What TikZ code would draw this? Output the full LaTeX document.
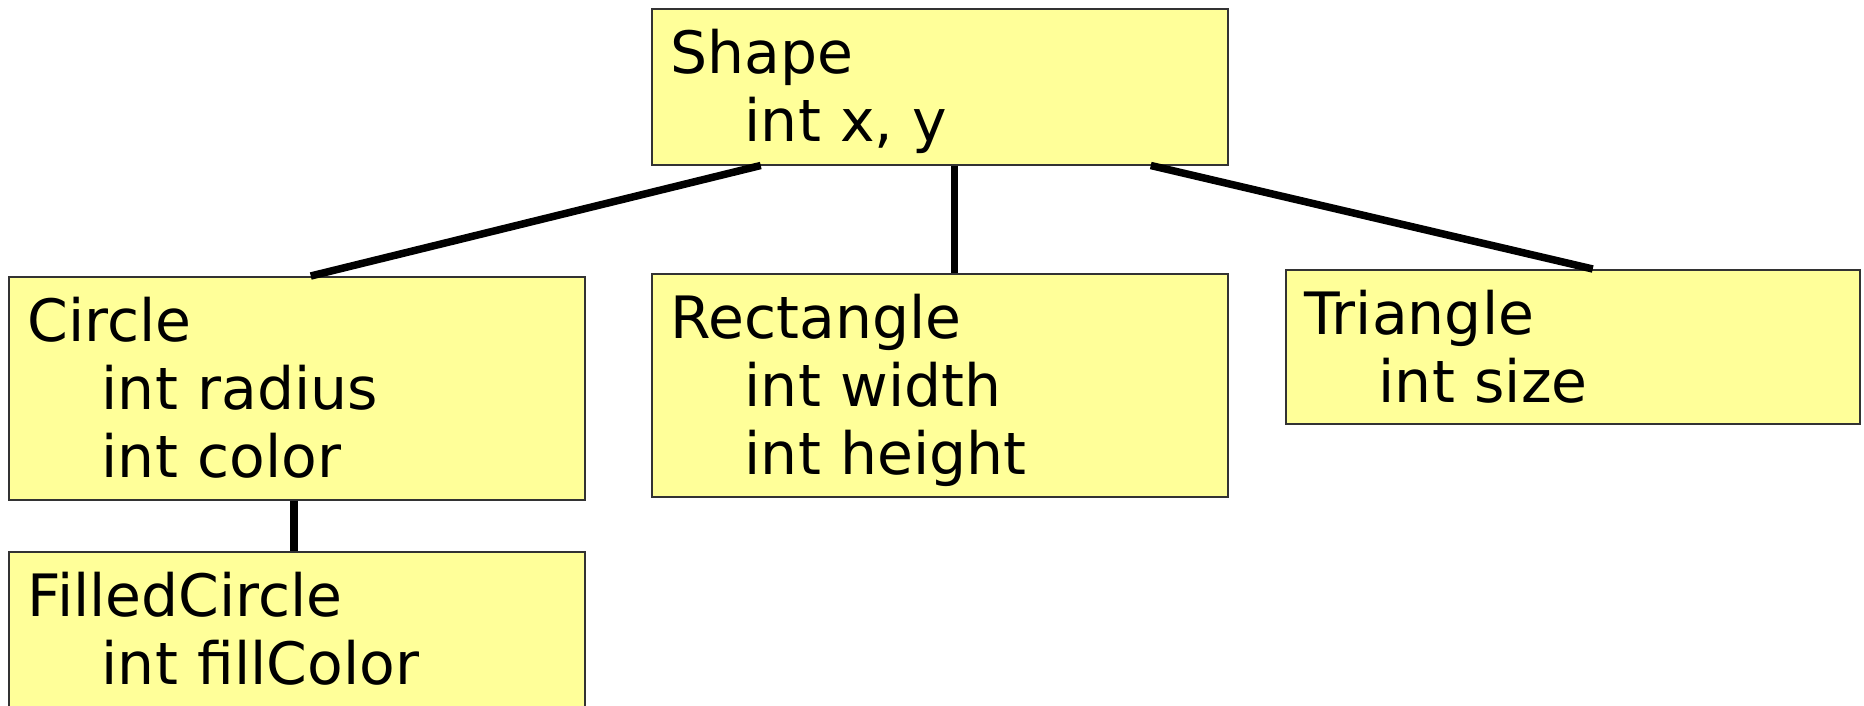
\documentclass[tikz,border=0pt]{standalone}
\usepackage{fontspec}
\setmainfont{DejaVu Sans}
\definecolor{notefill}{HTML}{FFFF99}
\newcommand{\field}[1]{\\\hspace*{74pt}#1}

\begin{document}
\begin{tikzpicture}[x=1pt,y=-1pt,
  klass/.style={draw=black!80, line width=1.5pt, fill=notefill, anchor=north west,
    inner xsep=19pt, inner ysep=0pt, text width=538pt, align=left,
    text height=65pt, font=\fontsize{58.4}{68}\selectfont},
  link/.style={line width=7.5pt}]
   \useasboundingbox (0,0) rectangle (1864,705);
   \node[klass, text depth=91pt] (shape) at (651,8) {Shape\field{int x, y}};
   \node[klass, text depth=158pt] (circle) at (8,276) {Circle\field{int radius}\field{int color}};
   \node[klass, text depth=158pt] (rect) at (651,273) {Rectangle\field{int width}\field{int height}};
   \node[klass, text depth=89pt, text width=536pt] (tri) at (1285,269) {Triangle\field{int size}};
   \node[klass, text depth=90pt] (filled) at (8,551) {FilledCircle\field{int fillColor}};
   \draw[link] ([xshift=-179pt]shape.south) -- ([xshift=14pt]circle.north);
   \draw[link] ([xshift=14.5pt]shape.south) -- ([xshift=14.5pt]rect.north);
   \draw[link] ([xshift=211pt]shape.south) -- ([xshift=20pt]tri.north);
   \draw[link] ([xshift=-3pt]circle.south) -- ([xshift=-3pt]filled.north);
\end{tikzpicture}
\end{document}
